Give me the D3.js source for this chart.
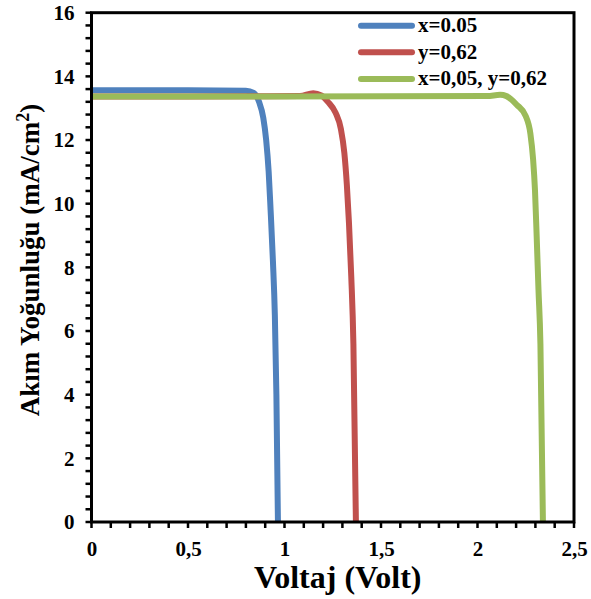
<!DOCTYPE html>
<html><head><meta charset="utf-8">
<script src="https://cdn.jsdelivr.net/npm/d3@7"></script>
<style>body{margin:0;background:#fff}svg{display:block}</style>
</head><body>
<script>
const seriesNames = ["x=0.05", "y=0,62", "x=0,05, y=0,62"];
const seriesColors = ["#4F81BD", "#C0504D", "#9BBB59"];
const blueV = [0, 0.5, 0.80, 0.84, 0.868, 0.890, 0.905, 0.918, 0.928, 0.940, 0.950, 0.958, 0.966];
const blueJ = [13.56, 13.56, 13.55, 13.48, 13.2, 12.7, 12.0, 11.0, 9.8, 8.2, 6.5, 4.0, 0];
const redV = [0, 0.5, 1.08, 1.149, 1.19, 1.225, 1.265, 1.292, 1.310, 1.323, 1.334, 1.346, 1.357, 1.370];
const redJ = [13.37, 13.37, 13.38, 13.47, 13.4, 13.2, 12.85, 12.35, 11.6, 10.6, 9.4, 7.7, 5.6, 0];
const greenV = [0, 1.0, 2.05, 2.117, 2.15, 2.203, 2.250, 2.274, 2.288, 2.298, 2.307, 2.316, 2.326, 2.339];
const greenJ = [13.37, 13.37, 13.38, 13.42, 13.38, 13.11, 12.75, 12.2, 11.4, 10.4, 8.9, 7.3, 5.6, 0];
const xTickLabels = ["0", "0,5", "1", "1,5", "2", "2,5"];
const yTickLabels = ["0", "2", "4", "6", "8", "10", "12", "14", "16"];
const xTitle = "Voltaj (Volt)";

const FONT = '"Liberation Serif", "Times New Roman", serif';
const W = 591, H = 599;
const m = {l: 91.5, r: 574, t: 12.7, b: 522};
const svg = d3.select("body").append("svg").attr("width", W).attr("height", H);
const x = d3.scaleLinear().domain([0, 2.5]).range([m.l, m.r]);
const y = d3.scaleLinear().domain([0, 16]).range([m.b, m.t]);

function styleText(sel, size) {
  sel.attr("font-family", null).style("font-family", FONT).style("font-weight", "bold").style("font-size", size + "px").style("fill", "#000");
}

const xMinor = d3.range(0, 2.5001, 0.1);
svg.append("g").selectAll("line").data(xMinor).join("line")
  .attr("x1", d => x(d)).attr("x2", d => x(d)).attr("y1", m.b).attr("y2", m.b + 6)
  .attr("stroke", "#000").attr("stroke-width", 2.5);
const yMinor = d3.range(0, 16.001, 0.4);
svg.append("g").selectAll("line").data(yMinor).join("line")
  .attr("y1", d => y(d)).attr("y2", d => y(d)).attr("x1", m.l - 6).attr("x2", m.l)
  .attr("stroke", "#000").attr("stroke-width", 2.5);

const xAxis = d3.axisBottom(x).tickValues([0, 0.5, 1, 1.5, 2, 2.5]).tickSize(0).tickPadding(19)
  .tickFormat((d, i) => xTickLabels[i]);
const gx = svg.append("g").attr("transform", `translate(0,${m.b})`).call(xAxis);
gx.select(".domain").remove();
gx.attr("font-family", null);
styleText(gx.selectAll("text"), 21);

const yAxis = d3.axisLeft(y).tickValues(d3.range(0, 17, 2)).tickSize(0).tickPadding(17)
  .tickFormat((d, i) => yTickLabels[i]);
const gy = svg.append("g").attr("transform", `translate(${m.l},0)`).call(yAxis);
gy.select(".domain").remove();
gy.attr("font-family", null);
styleText(gy.selectAll("text"), 21);

const data = [
  blueV.map((v, i) => [v, blueJ[i]]),
  redV.map((v, i) => [v, redJ[i]]),
  greenV.map((v, i) => [v, greenJ[i]])
];
const line = d3.line().x(d => x(d[0])).y(d => y(d[1])).curve(d3.curveMonotoneX);
data.forEach((s, i) => {
  svg.append("path").attr("d", line(s)).attr("fill", "none")
    .attr("stroke", seriesColors[i]).attr("stroke-width", 6).attr("stroke-linejoin", "round");
});

svg.append("rect").attr("x", m.l).attr("y", m.t).attr("width", m.r - m.l).attr("height", m.b - m.t)
  .attr("fill", "none").attr("stroke", "#000").attr("stroke-width", 3);

const leg = svg.append("g");
seriesNames.forEach((n, i) => {
  const yy = 25.7 + i * 26.6;
  leg.append("line").attr("x1", 361).attr("x2", 412).attr("y1", yy).attr("y2", yy)
    .attr("stroke", seriesColors[i]).attr("stroke-width", 6).attr("stroke-linecap", "round");
  styleText(leg.append("text").attr("x", 418).attr("y", yy + 6.5).text(n), 21);
});

styleText(svg.append("text").attr("x", (m.l + m.r) / 2 + 5).attr("y", 588).attr("text-anchor", "middle")
  .text(xTitle), 32);
const yt = svg.append("text").attr("transform", "translate(39,260) rotate(-90)").attr("text-anchor", "middle");
styleText(yt, 27);
yt.append("tspan").text("Akım Yoğunluğu (mA/cm");
yt.append("tspan").attr("dy", -10).style("font-size", "18px").text("2");
yt.append("tspan").attr("dy", 10).text(")");
</script>
</body></html>
